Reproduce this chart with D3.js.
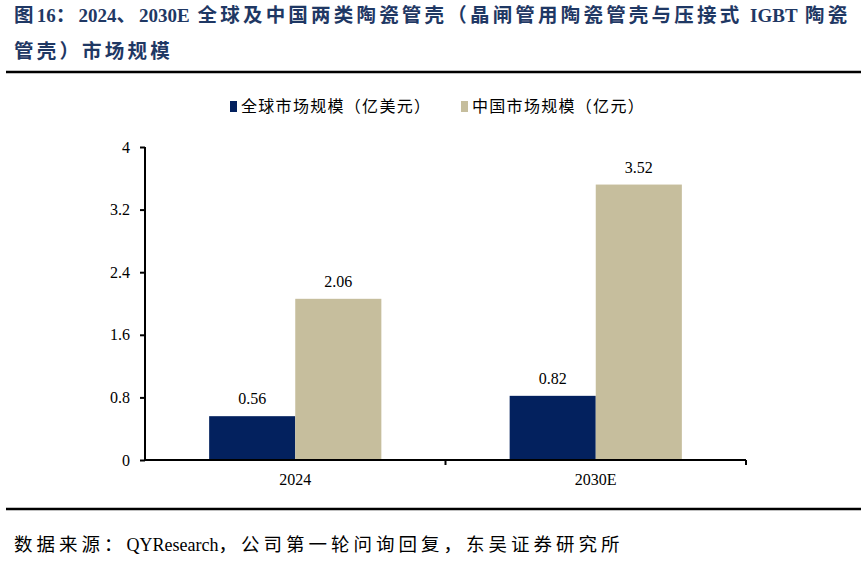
<!DOCTYPE html>
<html>
<head>
<meta charset="utf-8">
<script src="https://cdn.jsdelivr.net/npm/d3@7"></script>
<style>
  body { margin: 0; background: #fff; }
  svg { display: block; }
</style>
</head>
<body>
<div id="chart"></div>
<script>
const titleLines = [
  "图16：2024、2030E 全球及中国两类陶瓷管壳（晶闸管用陶瓷管壳与压接式 IGBT 陶瓷",
  "管壳）市场规模"
];
const sourceText = "数据来源：QYResearch，公司第一轮问询回复，东吴证券研究所";

const categories = ["2024", "2030E"];
const seriesNames = ["全球市场规模（亿美元）", "中国市场规模（亿元）"];
const globalValues = [0.56, 0.82];
const chinaValues = [2.06, 3.52];
const yTicks = [0, 0.8, 1.6, 2.4, 3.2, 4];
const seriesColors = ["#03215E", "#C6BE9D"];

const width = 868, height = 564;
const serif = "'Liberation Serif', 'Times New Roman', 'Noto Sans CJK SC', serif";

const svg = d3.select("#chart")
  .append("svg")
  .attr("width", width)
  .attr("height", height);

// split a string into CJK / latin runs so the CJK glyphs can be spaced out
// like the Song font in the original
function richText(sel, str, cjkSize, cjkSpacing) {
  sel.attr("xml:space", "preserve").style("white-space", "pre");
  const runs = str.match(/[\u3000-\u9fff\uff00-\uffef]+|[^\u3000-\u9fff\uff00-\uffef]+/g);
  runs.forEach(r => {
    const isCjk = /[\u3000-\u9fff\uff00-\uffef]/.test(r);
    const t = sel.append("tspan").text(r);
    if (isCjk) {
      t.style("font-size", cjkSize + "px")
        .style("letter-spacing", cjkSpacing + "px");
    }
  });
}

// title
svg.selectAll(".title")
  .data(titleLines)
  .enter()
  .append("text")
  .attr("class", "title")
  .attr("x", 14)
  .attr("y", (d, i) => 22 + i * 36)
  .style("font-family", serif)
  .style("font-weight", "bold")
  .style("font-size", "19px")
  .style("word-spacing", "3px")
  .style("fill", "#1F3864")
  .each(function (d) { richText(d3.select(this), d, 19.5, 3.2); });

// rules
[72, 509].forEach(y => {
  svg.append("line")
    .attr("x1", 6).attr("x2", 861)
    .attr("y1", y).attr("y2", y)
    .attr("stroke", "#000")
    .attr("stroke-width", 2.5);
});

// legend
const legendX = [230, 461];
const legend = svg.selectAll(".legend")
  .data(seriesNames)
  .enter()
  .append("g")
  .attr("class", "legend")
  .attr("transform", (d, i) => `translate(${legendX[i]}, 106)`);

legend.append("rect")
  .attr("x", 0).attr("y", -5)
  .attr("width", 7).attr("height", 11)
  .attr("fill", (d, i) => seriesColors[i]);

legend.append("text")
  .attr("x", 11)
  .attr("y", 5.5)
  .style("font-family", serif)
  .style("font-size", "16px")
  .style("fill", "#000")
  .each(function (d) { richText(d3.select(this), d, 16, 1.3); });

// plot
const plot = { left: 145, right: 746, top: 147, bottom: 460 };

const y = d3.scaleLinear()
  .domain([0, 4])
  .range([plot.bottom, plot.top]);

const x0 = d3.scaleBand()
  .domain(categories)
  .range([plot.left, plot.right])
  .padding(0);

const x1 = d3.scaleBand()
  .domain(seriesNames)
  .range([0, x0.bandwidth()])
  .paddingInner(0)
  .paddingOuter(0.745);

const table = categories.map((c, i) => ({
  category: c,
  values: [
    { series: seriesNames[0], value: globalValues[i], color: seriesColors[0] },
    { series: seriesNames[1], value: chinaValues[i], color: seriesColors[1] }
  ]
}));

const groups = svg.selectAll(".group")
  .data(table)
  .enter()
  .append("g")
  .attr("class", "group")
  .attr("transform", d => `translate(${x0(d.category)}, 0)`);

groups.selectAll("rect")
  .data(d => d.values)
  .enter()
  .append("rect")
  .attr("x", d => x1(d.series))
  .attr("y", d => y(d.value))
  .attr("width", x1.bandwidth())
  .attr("height", d => y(0) - y(d.value))
  .attr("fill", d => d.color);

groups.selectAll(".value")
  .data(d => d.values)
  .enter()
  .append("text")
  .attr("class", "value")
  .attr("x", d => x1(d.series) + x1.bandwidth() / 2)
  .attr("y", d => y(d.value) - 12)
  .attr("text-anchor", "middle")
  .style("font-family", serif)
  .style("font-size", "16px")
  .style("fill", "#000")
  .text(d => d.value.toFixed(2));

// y axis
const yAxis = svg.append("g")
  .attr("transform", `translate(${plot.left}, 0)`)
  .call(d3.axisLeft(y)
    .tickValues(yTicks)
    .tickSize(5)
    .tickPadding(10)
    .tickFormat(d => String(d)));

yAxis.select(".domain")
  .attr("stroke", "#000")
  .attr("stroke-width", 2)
  .attr("d", `M0,${plot.top}V${plot.bottom}`);
yAxis.selectAll(".tick line").attr("stroke", "#000").attr("stroke-width", 2);
yAxis.selectAll(".tick text")
  .style("font-family", serif)
  .style("font-size", "16px")
  .style("fill", "#000");

// x axis
const xAxis = svg.append("g")
  .attr("transform", `translate(0, ${plot.bottom})`)
  .call(d3.axisBottom(x0).tickSize(0).tickPadding(14));

xAxis.select(".domain")
  .attr("stroke", "#000")
  .attr("stroke-width", 2)
  .attr("d", `M${plot.left},0H${plot.right}`);
xAxis.selectAll(".tick text")
  .style("font-family", serif)
  .style("font-size", "16px")
  .style("fill", "#000");

// category boundary ticks
const boundaries = categories.map(c => x0(c) + x0.bandwidth());
xAxis.selectAll(".bound")
  .data(boundaries)
  .enter()
  .append("line")
  .attr("class", "bound")
  .attr("x1", d => d).attr("x2", d => d)
  .attr("y1", 0).attr("y2", 5)
  .attr("stroke", "#000")
  .attr("stroke-width", 2);

// source
svg.append("text")
  .attr("x", 14)
  .attr("y", 551)
  .style("font-family", serif)
  .style("font-size", "18px")
  .style("fill", "#000")
  .each(function () { richText(d3.select(this), sourceText, 18.5, 4.0); });
</script>
</body>
</html>
